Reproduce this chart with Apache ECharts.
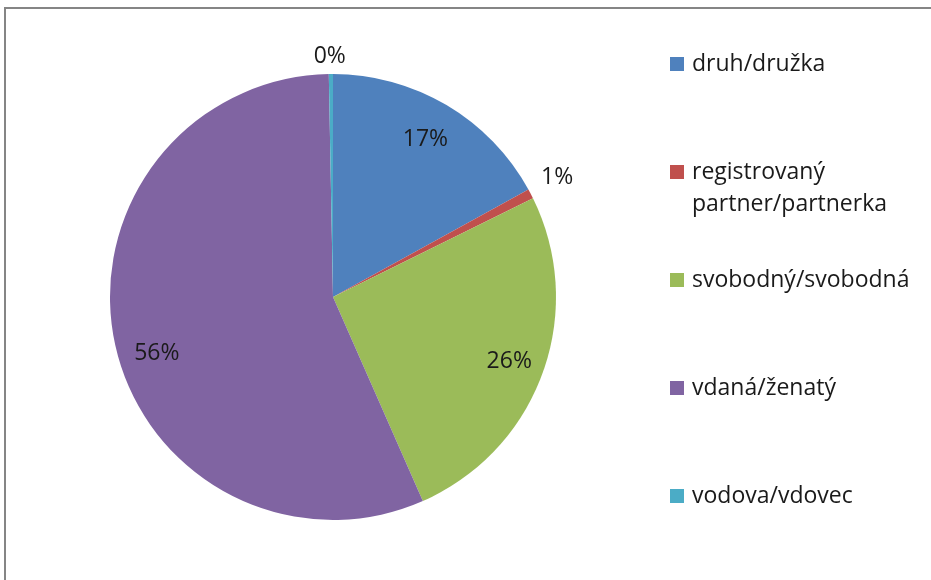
<!DOCTYPE html>
<html>
<head>
<meta charset="utf-8">
<script src="https://cdn.jsdelivr.net/npm/echarts@6/dist/echarts.min.js"></script>
<style>
  html, body { margin: 0; padding: 0; background: #fff; }
  #chart { width: 931px; height: 580px; }
</style>
</head>
<body>
<div id="chart"></div>
<script>
// marital status shares (%)
const categories = ["druh/družka", "registrovaný partner/partnerka", "svobodný/svobodná", "vdaná/ženatý", "vodova/vdovec"];
// legend text; the two-line entry gets a blank first line so its square sits on "registrovaný"
const legendLabels = ["druh/družka", " \nregistrovaný\npartner/partnerka", "svobodný/svobodná", "vdaná/ženatý", "vodova/vdovec"];
const shares = [17.0, 0.7, 25.7, 56.3, 0.3];
const colors = ["#4F81BD", "#C0504D", "#9BBB59", "#8064A2", "#4BACC6"];

const FONT = "Open Sans";
const FS = 23;
const TEXT = "#1a1a1a";
const center = [333, 297];
const R = 223;

const pieData = categories.map((name, i) => ({
  name: name,
  value: shares[i],
  itemStyle: { color: colors[i] },
}));

// small slices get their label outside, big ones inside (near the rim)
const isSmall = (v) => v < 1;

// one legend per entry so the entries sit on an even 108px pitch like the original
const legends = categories.map((name, i) => ({
  data: [name],
  orient: "vertical",
  left: 665,
  top: 43 + i * 108 - (i === 1 ? 32 : 0),
  icon: "rect",
  itemWidth: 14,
  itemHeight: 14,
  formatter: () => legendLabels[i],
  textStyle: {
    fontFamily: FONT,
    fontSize: FS,
    color: TEXT,
    lineHeight: 32,
    padding: [0, 0, 0, 3],
  },
}));

const pctLabel = (p) => Math.round(p.percent) + "%";

const chart = echarts.init(document.getElementById("chart"));
chart.setOption({
  animation: false,
  backgroundColor: "#fff",
  legend: legends,
  graphic: [{
    type: "rect",
    shape: { x: 5, y: 8, width: 1000, height: 1000 },
    style: { fill: "none", stroke: "#858585", lineWidth: 2 },
    silent: true,
  }],
  series: [
    {
      type: "pie",
      center: center,
      radius: [0, R],
      startAngle: 90,
      clockwise: true,
      data: pieData.map((d) => ({
        ...d,
        label: { show: isSmall(d.value) },
      })),
      itemStyle: { borderWidth: 0 },
      label: {
        position: "outside",
        fontFamily: FONT,
        fontSize: FS,
        color: TEXT,
        formatter: pctLabel,
      },
      labelLine: { show: false, length: 6, length2: 0 },
      labelLayout: (p) => {
        if (p.dataIndex === 1) return { dy: -14 };
        if (p.dataIndex === 4) return { dx: 20, dy: -12 };
        return {};
      },
      emphasis: { scale: false },
    },
    {
      // transparent ring only used to place the big labels near the rim
      type: "pie",
      center: center,
      radius: [R * 0.655, R],
      startAngle: 90,
      clockwise: true,
      silent: true,
      data: pieData.map((d) => ({
        name: d.name,
        value: d.value,
        itemStyle: { color: "rgba(0,0,0,0)" },
        label: { show: !isSmall(d.value) },
      })),
      label: {
        position: "inside",
        fontFamily: FONT,
        fontSize: FS,
        color: TEXT,
        formatter: pctLabel,
      },
      labelLine: { show: false },
      labelLayout: (p) => {
        if (p.dataIndex === 0) return { dx: -3, dy: 4 };
        if (p.dataIndex === 3) return { dx: 7, dy: 16 };
        return {};
      },
      emphasis: { disabled: true },
    },
  ],
});
</script>
</body>
</html>
